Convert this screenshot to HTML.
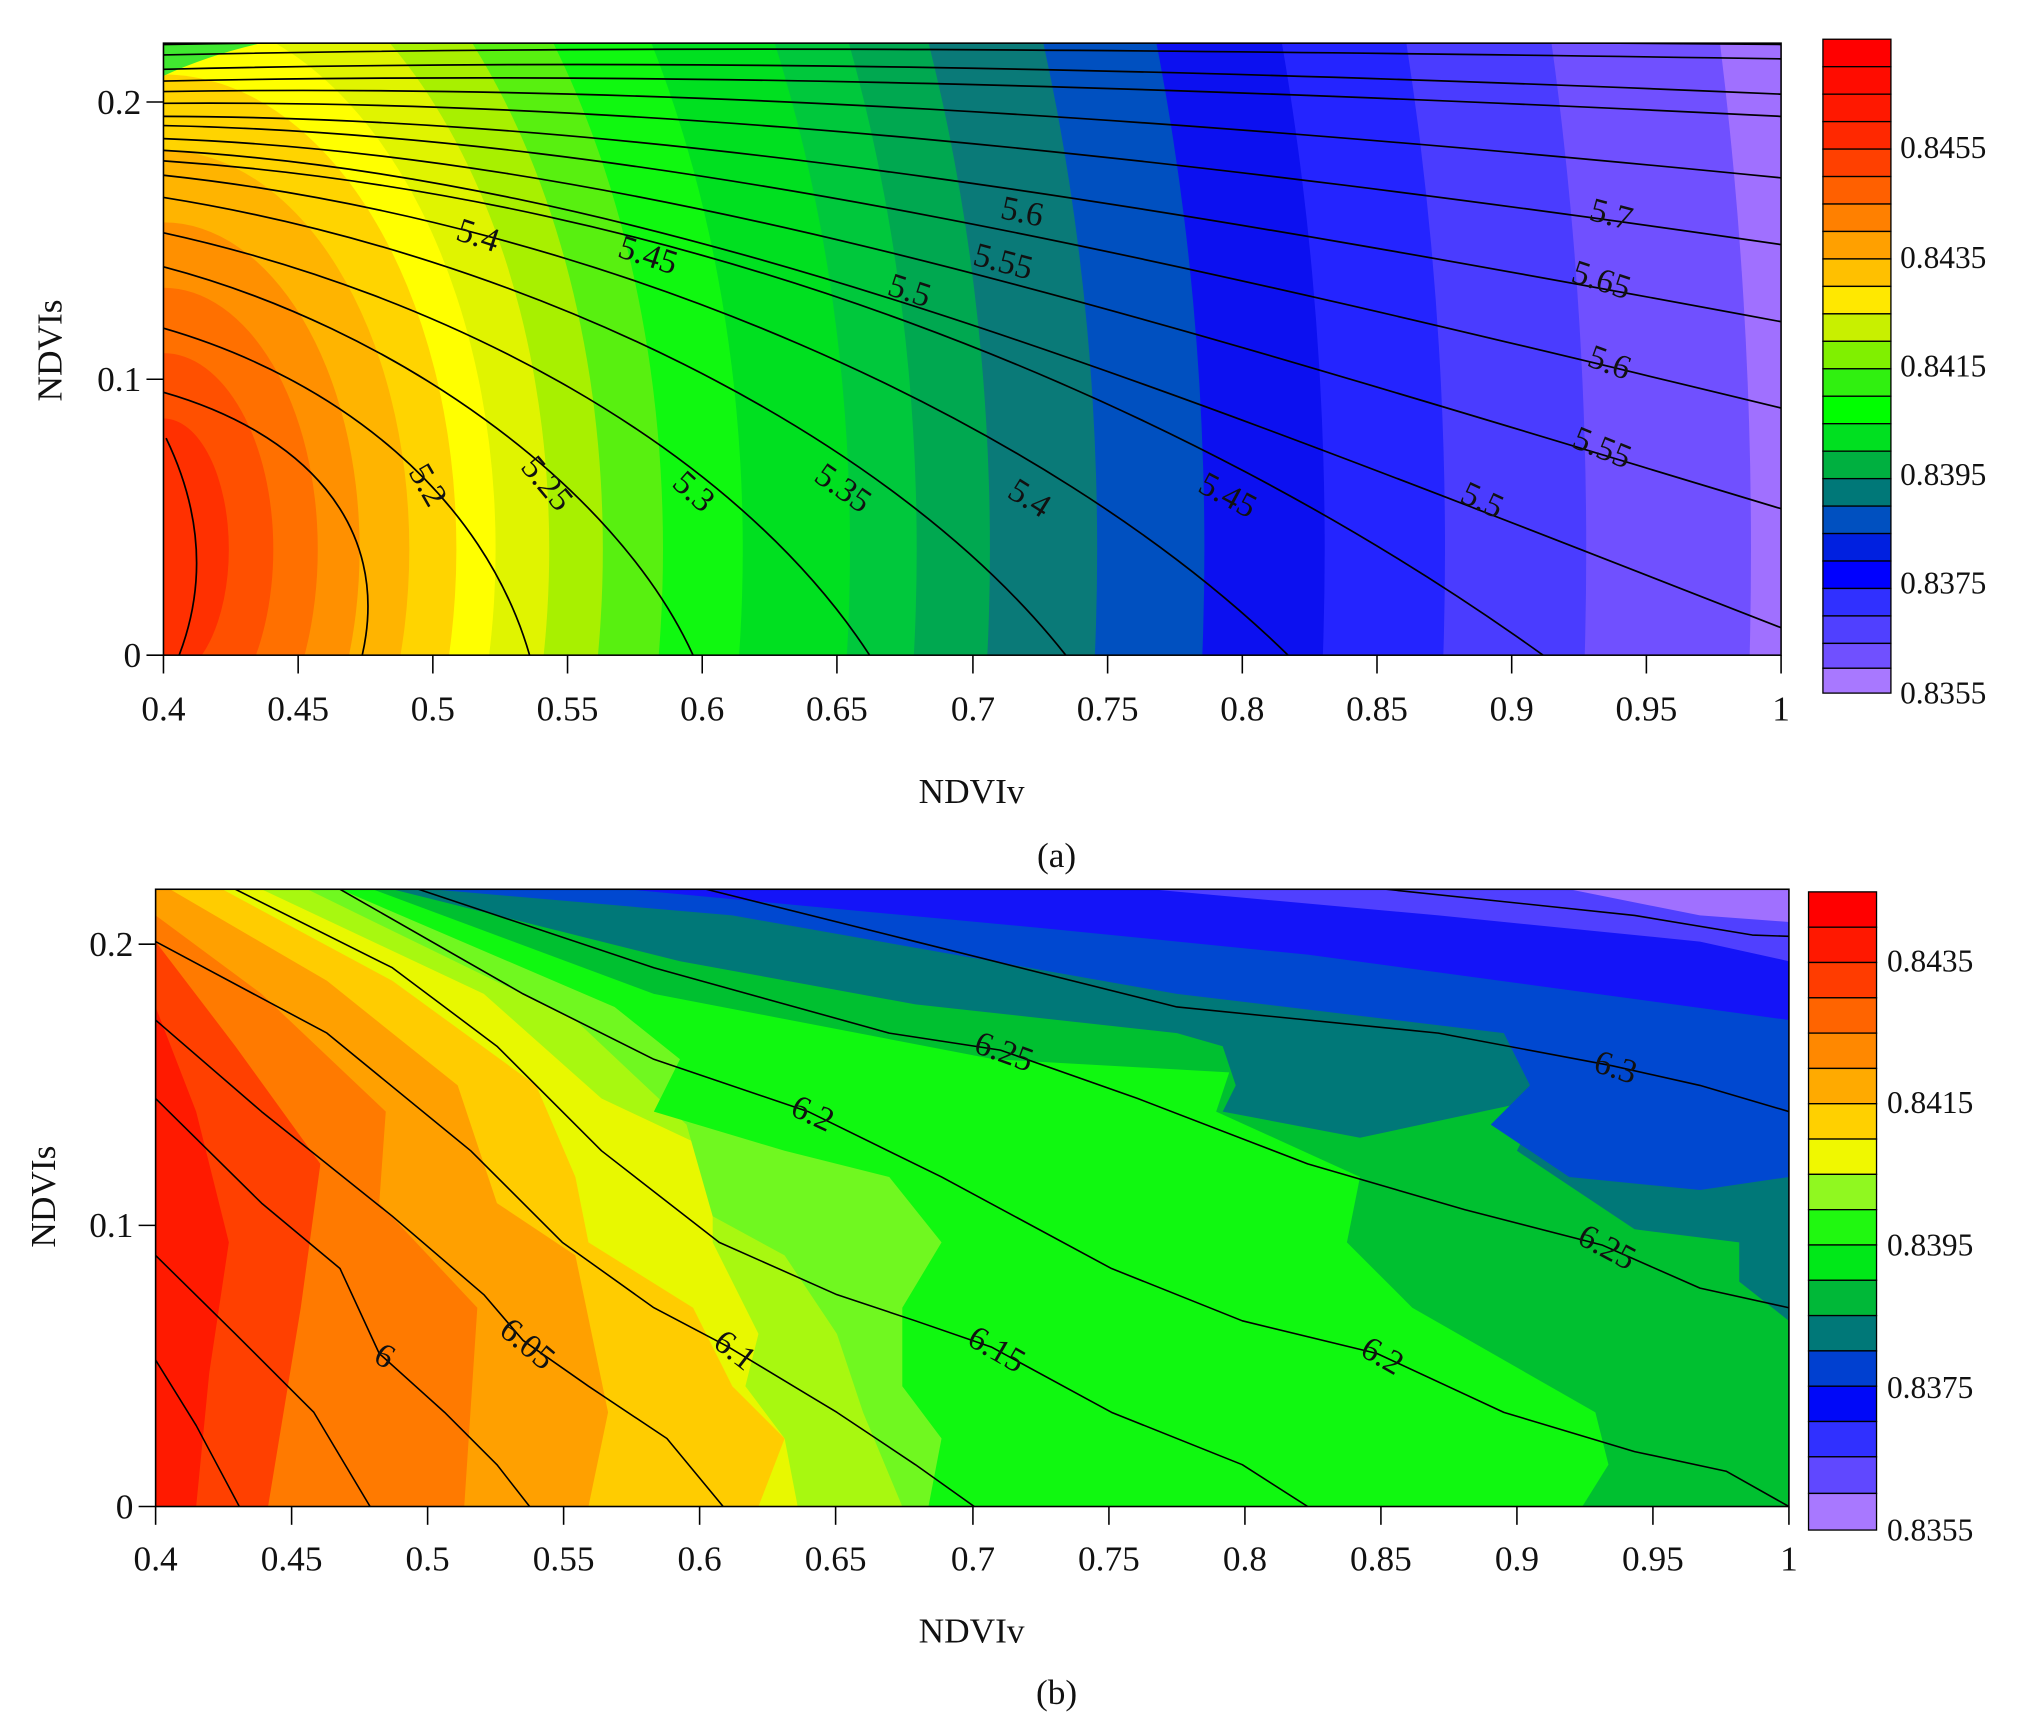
<!DOCTYPE html>
<html><head><meta charset="utf-8"><style>html,body{margin:0;padding:0;background:#fff;width:2040px;height:1727px;overflow:hidden}svg{display:block}</style></head>
<body>
<svg width="2040" height="1727" viewBox="0 0 1560 1320.6" preserveAspectRatio="none" xmlns="http://www.w3.org/2000/svg" font-family="Liberation Serif, serif">
<defs>
<clipPath id="ca"><rect x="125" y="33" width="1237" height="468"/></clipPath>
<clipPath id="cb"><rect x="119" y="680" width="1249" height="472"/></clipPath>
</defs>
<rect width="1560" height="1321" fill="#fff"/>
<!-- Panel A -->
<g clip-path="url(#ca)">
<rect x="125" y="33" width="1237" height="468" fill="#a070ff"/>
<ellipse cx="125" cy="420" rx="1214" ry="1967" fill="#7050ff"/>
<ellipse cx="125" cy="420" rx="1088" ry="1763" fill="#4a3cff"/>
<ellipse cx="125" cy="420" rx="980" ry="1588" fill="#2424ff"/>
<ellipse cx="125" cy="420" rx="888" ry="1439" fill="#0c10f0"/>
<ellipse cx="125" cy="420" rx="796" ry="1290" fill="#0050c0"/>
<ellipse cx="125" cy="420" rx="714" ry="1157" fill="#0a7a78"/>
<ellipse cx="125" cy="420" rx="632" ry="1024" fill="#00a850"/>
<ellipse cx="125" cy="420" rx="576" ry="933" fill="#00c83c"/>
<ellipse cx="125" cy="420" rx="525" ry="850" fill="#00e020"/>
<ellipse cx="125" cy="420" rx="443" ry="718" fill="#10f810"/>
<ellipse cx="125" cy="420" rx="382" ry="619" fill="#58f010"/>
<ellipse cx="125" cy="420" rx="336" ry="544" fill="#a8f000"/>
<ellipse cx="125" cy="420" rx="295" ry="478" fill="#e0f400"/>
<ellipse cx="125" cy="420" rx="254" ry="411" fill="#ffff00"/>
<ellipse cx="125" cy="420" rx="224" ry="363" fill="#ffd400"/>
<ellipse cx="125" cy="420" rx="188" ry="305" fill="#ffb400"/>
<ellipse cx="125" cy="420" rx="150" ry="250" fill="#ff9000"/>
<ellipse cx="125" cy="420" rx="118" ry="200" fill="#ff7000"/>
<ellipse cx="125" cy="420" rx="84" ry="150" fill="#ff5000"/>
<ellipse cx="125" cy="420" rx="50" ry="100" fill="#ff3000"/>
<path d="M125,33 L200,33 Q160,42 125,58 Z" fill="#40e830"/>
<g fill="none" stroke="#000" stroke-width="1.3">
<path d="M125,34 C500,28 900,30 1362,34"/>
<path d="M125,42 C500,34 900,38 1362,45"/>
<path d="M125,53 C500,44 900,52 1362,72"/>
<path d="M125,62 C500,54 900,66 1362,89"/>
<path d="M125,70 C500,64 900,90 1362,136"/>
<path d="M125,79 C500,76 900,120 1362,187"/>
<path d="M125,89 C500,90 900,160 1362,246"/>
<path d="M125,96 C500,104 900,200 1362,312"/>
<path d="M125,106 C500,120 900,250 1362,389"/>
<path d="M125,115 C500,136 900,300 1362,480"/>
<path d="M125,123 C520,150 900,300 1180,501"/>
<path d="M125,134 C460,170 800,320 985,501"/>
<path d="M125,151 C400,195 680,330 815,501"/>
<path d="M125,178 C340,225 560,340 665,501"/>
<path d="M125,204 C300,250 470,370 530,501"/>
<path d="M125,251 C260,290 370,380 405,501"/>
<path d="M125,300 C230,330 300,400 277,501"/>
<path d="M127,335 Q168,420 137,501"/>
</g>
<g font-size="26" fill="#111">
<text x="320" y="375" transform="rotate(60 320 375)" text-anchor="middle">5.2</text>
<text x="412" y="375" transform="rotate(50 412 375)" text-anchor="middle">5.25</text>
<text x="525" y="382" transform="rotate(42 525 382)" text-anchor="middle">5.3</text>
<text x="640" y="380" transform="rotate(35 640 380)" text-anchor="middle">5.35</text>
<text x="783" y="388" transform="rotate(32 783 388)" text-anchor="middle">5.4</text>
<text x="935" y="386" transform="rotate(28 935 386)" text-anchor="middle">5.45</text>
<text x="1130" y="390" transform="rotate(25 1130 390)" text-anchor="middle">5.5</text>
<text x="1222" y="350" transform="rotate(22 1222 350)" text-anchor="middle">5.55</text>
<text x="1228" y="285" transform="rotate(20 1228 285)" text-anchor="middle">5.6</text>
<text x="1222" y="222" transform="rotate(18 1222 222)" text-anchor="middle">5.65</text>
<text x="1230" y="172" transform="rotate(15 1230 172)" text-anchor="middle">5.7</text>
<text x="363" y="188" transform="rotate(18 363 188)" text-anchor="middle">5.4</text>
<text x="493" y="203" transform="rotate(18 493 203)" text-anchor="middle">5.45</text>
<text x="693" y="230" transform="rotate(18 693 230)" text-anchor="middle">5.5</text>
<text x="765" y="208" transform="rotate(15 765 208)" text-anchor="middle">5.55</text>
<text x="780" y="170" transform="rotate(12 780 170)" text-anchor="middle">5.6</text>
</g>
</g>
<rect x="125" y="33" width="1237" height="468" fill="none" stroke="#000" stroke-width="1.2"/>
<g stroke="#000" stroke-width="1.2">
<line x1="112" y1="78" x2="125" y2="78"/><line x1="112" y1="290" x2="125" y2="290"/><line x1="112" y1="501" x2="125" y2="501"/>
<line x1="125" y1="501" x2="125" y2="515"/><line x1="228" y1="501" x2="228" y2="515"/><line x1="331" y1="501" x2="331" y2="515"/><line x1="434" y1="501" x2="434" y2="515"/><line x1="537" y1="501" x2="537" y2="515"/><line x1="640" y1="501" x2="640" y2="515"/><line x1="744" y1="501" x2="744" y2="515"/><line x1="847" y1="501" x2="847" y2="515"/><line x1="950" y1="501" x2="950" y2="515"/><line x1="1053" y1="501" x2="1053" y2="515"/><line x1="1156" y1="501" x2="1156" y2="515"/><line x1="1259" y1="501" x2="1259" y2="515"/><line x1="1362" y1="501" x2="1362" y2="515"/>
</g>
<g font-size="27" fill="#111">
<text x="108" y="87" text-anchor="end">0.2</text><text x="108" y="299" text-anchor="end">0.1</text><text x="108" y="510" text-anchor="end">0</text>
<g text-anchor="middle"><text x="125" y="551">0.4</text><text x="228" y="551">0.45</text><text x="331" y="551">0.5</text><text x="434" y="551">0.55</text><text x="537" y="551">0.6</text><text x="640" y="551">0.65</text><text x="744" y="551">0.7</text><text x="847" y="551">0.75</text><text x="950" y="551">0.8</text><text x="1053" y="551">0.85</text><text x="1156" y="551">0.9</text><text x="1259" y="551">0.95</text><text x="1362" y="551">1</text>
<text x="743" y="614">NDVIv</text><text x="808" y="663">(a)</text>
<text transform="translate(47,268) rotate(-90)">NDVIs</text></g>
</g>
<!-- colorbar a -->
<g stroke="#000" stroke-width="1">
<rect x="1394" y="30" width="52" height="21" fill="#ff0000"/><rect x="1394" y="51" width="52" height="21" fill="#ff0c00"/><rect x="1394" y="72" width="52" height="21" fill="#ff1800"/><rect x="1394" y="93" width="52" height="21" fill="#ff2800"/>
<rect x="1394" y="114" width="52" height="21" fill="#ff4000"/><rect x="1394" y="135" width="52" height="21" fill="#ff6000"/><rect x="1394" y="156" width="52" height="21" fill="#ff8000"/><rect x="1394" y="177" width="52" height="21" fill="#ffa000"/>
<rect x="1394" y="198" width="52" height="21" fill="#ffc000"/><rect x="1394" y="219" width="52" height="21" fill="#ffe800"/><rect x="1394" y="240" width="52" height="21" fill="#c8f000"/><rect x="1394" y="261" width="52" height="21" fill="#80f000"/>
<rect x="1394" y="282" width="52" height="21" fill="#30f010"/><rect x="1394" y="303" width="52" height="21" fill="#00ff00"/><rect x="1394" y="324" width="52" height="21" fill="#00e020"/><rect x="1394" y="345" width="52" height="21" fill="#00b040"/>
<rect x="1394" y="366" width="52" height="21" fill="#007878"/><rect x="1394" y="387" width="52" height="21" fill="#0050c0"/><rect x="1394" y="408" width="52" height="21" fill="#0020e0"/><rect x="1394" y="429" width="52" height="21" fill="#0000ff"/>
<rect x="1394" y="450" width="52" height="21" fill="#3030ff"/><rect x="1394" y="471" width="52" height="21" fill="#5040ff"/><rect x="1394" y="492" width="52" height="19" fill="#7050ff"/><rect x="1394" y="511" width="52" height="19" fill="#a878ff"/>
</g>
<g font-size="24" fill="#111"><text x="1453" y="121">0.8455</text><text x="1453" y="205">0.8435</text><text x="1453" y="288">0.8415</text><text x="1453" y="371">0.8395</text><text x="1453" y="454">0.8375</text><text x="1453" y="538">0.8355</text></g>

<!-- Panel B -->
<g clip-path="url(#cb)">
<rect x="119" y="680" width="1249" height="472" fill="#ff1a00"/>
<g stroke="none">
<path d="M119,770 L150,850 L175,950 L160,1050 L150,1152 L1368,1152 L1368,680 L119,680 Z" fill="#ff4000"/>
<path d="M119,720 L180,800 L245,890 L230,1000 L205,1152 L1368,1152 L1368,680 L119,680 Z" fill="#ff7a00"/>
<path d="M119,700 L200,760 L295,850 L290,920 L365,1000 L355,1152 L1368,1152 L1368,680 L119,680 Z" fill="#ffa000"/>
<path d="M130,680 L250,750 L350,830 L380,920 L440,960 L465,1080 L450,1152 L1368,1152 L1368,680 Z" fill="#ffcc00"/>
<path d="M170,680 L300,750 L410,830 L440,900 L450,950 L530,1000 L560,1060 L600,1100 L580,1152 L1368,1152 L1368,680 Z" fill="#e8f800"/>
<path d="M200,680 L370,760 L460,840 L545,880 L545,950 L580,1020 L570,1060 L600,1100 L610,1152 L1368,1152 L1368,680 Z" fill="#a8f810"/>
<path d="M235,680 L440,780 L525,860 L545,930 L600,960 L640,1020 L660,1080 L690,1152 L1368,1152 L1368,680 Z" fill="#70f820"/>
<path d="M260,680 L470,770 L520,810 L500,850 L600,880 L680,900 L720,950 L690,1000 L690,1060 L720,1100 L710,1152 L1368,1152 L1368,680 Z" fill="#10f810"/>
<path d="M285,680 L500,760 L760,810 L940,820 L930,850 L1040,900 L1030,950 L1080,1000 L1220,1080 L1230,1120 L1210,1152 L1368,1152 L1368,680 Z" fill="#00c030"/>
<path d="M300,680 L520,735 L700,768 L900,790 L935,800 L945,830 L935,850 L1040,870 L1180,840 L1160,880 L1250,940 L1330,950 L1330,980 L1368,1010 L1368,680 Z" fill="#007878"/>
<path d="M330,680 L560,700 L900,760 L1150,790 L1170,830 L1140,860 L1200,900 L1300,910 L1368,900 L1368,680 Z" fill="#0048d0"/>
<path d="M480,680 L800,710 L1000,730 L1368,780 L1368,680 Z" fill="#1414f8"/>
<path d="M880,680 L1100,700 L1300,720 L1368,735 L1368,680 Z" fill="#5040ff"/>
<path d="M1200,680 L1300,700 L1368,705 L1368,680 Z" fill="#a070ff"/>
</g>
<g fill="none" stroke="#000" stroke-width="1.2" stroke-linejoin="round">
<polyline points="119,1040 150,1090 183,1152"/>
<polyline points="119,960 180,1020 240,1080 283,1152"/>
<polyline points="119,840 200,920 260,970 290,1035 340,1080 380,1120 405,1152"/>
<polyline points="119,780 200,850 300,930 370,990 400,1025 450,1060 510,1100 553,1152"/>
<polyline points="119,720 250,790 360,880 430,950 500,1000 557,1030 640,1080 700,1120 745,1152"/>
<polyline points="180,680 300,740 380,800 460,880 550,950 640,990 700,1010 758,1030 850,1080 950,1120 1000,1152"/>
<polyline points="260,680 400,760 500,810 618,850 720,900 850,970 950,1010 1053,1035 1150,1080 1250,1110 1320,1125 1368,1152"/>
<polyline points="320,680 500,740 680,790 765,803 870,840 1000,890 1120,925 1225,952 1300,985 1368,1000"/>
<polyline points="540,680 700,720 900,770 1100,790 1233,815 1300,830 1368,850"/>
<polyline points="1060,680 1250,700 1340,715 1368,716"/>
</g>
<g font-size="26" fill="#111" text-anchor="middle">
<text x="290" y="1044" transform="rotate(30 290 1044)">6</text>
<text x="398" y="1034" transform="rotate(40 398 1034)">6.05</text>
<text x="557" y="1039" transform="rotate(38 557 1039)">6.1</text>
<text x="758" y="1039" transform="rotate(30 758 1039)">6.15</text>
<text x="1053" y="1044" transform="rotate(30 1053 1044)">6.2</text>
<text x="1225" y="961" transform="rotate(28 1225 961)">6.25</text>
<text x="618" y="859" transform="rotate(25 618 859)">6.2</text>
<text x="765" y="812" transform="rotate(20 765 812)">6.25</text>
<text x="1233" y="824" transform="rotate(18 1233 824)">6.3</text>
</g>
</g>
<rect x="119" y="680" width="1249" height="472" fill="none" stroke="#000" stroke-width="1.2"/>
<g stroke="#000" stroke-width="1.2">
<line x1="106" y1="722" x2="119" y2="722"/><line x1="106" y1="937" x2="119" y2="937"/><line x1="106" y1="1152" x2="119" y2="1152"/>
<line x1="119" y1="1152" x2="119" y2="1166"/><line x1="223" y1="1152" x2="223" y2="1166"/><line x1="327" y1="1152" x2="327" y2="1166"/><line x1="431" y1="1152" x2="431" y2="1166"/><line x1="535" y1="1152" x2="535" y2="1166"/><line x1="639" y1="1152" x2="639" y2="1166"/><line x1="744" y1="1152" x2="744" y2="1166"/><line x1="848" y1="1152" x2="848" y2="1166"/><line x1="952" y1="1152" x2="952" y2="1166"/><line x1="1056" y1="1152" x2="1056" y2="1166"/><line x1="1160" y1="1152" x2="1160" y2="1166"/><line x1="1264" y1="1152" x2="1264" y2="1166"/><line x1="1368" y1="1152" x2="1368" y2="1166"/>
</g>
<g font-size="27" fill="#111">
<text x="102" y="731" text-anchor="end">0.2</text><text x="102" y="946" text-anchor="end">0.1</text><text x="102" y="1161" text-anchor="end">0</text>
<g text-anchor="middle"><text x="119" y="1201">0.4</text><text x="223" y="1201">0.45</text><text x="327" y="1201">0.5</text><text x="431" y="1201">0.55</text><text x="535" y="1201">0.6</text><text x="639" y="1201">0.65</text><text x="744" y="1201">0.7</text><text x="848" y="1201">0.75</text><text x="952" y="1201">0.8</text><text x="1056" y="1201">0.85</text><text x="1160" y="1201">0.9</text><text x="1264" y="1201">0.95</text><text x="1368" y="1201">1</text>
<text x="743" y="1256">NDVIv</text><text x="808" y="1303">(b)</text>
<text transform="translate(42,915) rotate(-90)">NDVIs</text></g>
</g>
<!-- colorbar b -->
<g stroke="#000" stroke-width="1">
<rect x="1383" y="682" width="52" height="27" fill="#ff0000"/><rect x="1383" y="709" width="52" height="27" fill="#ff1800"/><rect x="1383" y="736" width="52" height="27" fill="#ff3c00"/><rect x="1383" y="763" width="52" height="27" fill="#ff6400"/>
<rect x="1383" y="790" width="52" height="27" fill="#ff8800"/><rect x="1383" y="817" width="52" height="27" fill="#ffaa00"/><rect x="1383" y="844" width="52" height="27" fill="#ffd000"/><rect x="1383" y="871" width="52" height="27" fill="#f0f800"/>
<rect x="1383" y="898" width="52" height="27" fill="#90f820"/><rect x="1383" y="925" width="52" height="27" fill="#20f810"/><rect x="1383" y="952" width="52" height="27" fill="#00e818"/><rect x="1383" y="979" width="52" height="27" fill="#00b838"/>
<rect x="1383" y="1006" width="52" height="27" fill="#007878"/><rect x="1383" y="1033" width="52" height="27" fill="#0040d0"/><rect x="1383" y="1060" width="52" height="27" fill="#0008f8"/><rect x="1383" y="1087" width="52" height="27" fill="#3030ff"/>
<rect x="1383" y="1114" width="52" height="28" fill="#6048ff"/><rect x="1383" y="1142" width="52" height="28" fill="#a878ff"/>
</g>
<g font-size="24" fill="#111"><text x="1443" y="743">0.8435</text><text x="1443" y="851">0.8415</text><text x="1443" y="960">0.8395</text><text x="1443" y="1069">0.8375</text><text x="1443" y="1178">0.8355</text></g>
</svg>
</body></html>
